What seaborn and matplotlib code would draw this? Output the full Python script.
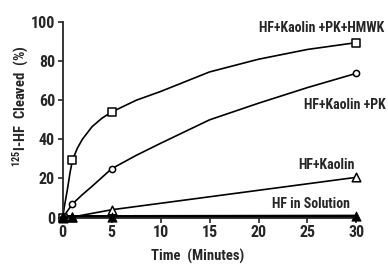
"""
Clivagem de 125I-HF ao longo do tempo
"""

import matplotlib
matplotlib.use("Agg")
import matplotlib.pyplot as plt
import seaborn as sns

# Pontos medidos (min, %)
time_pts = [0, 1, 5, 30]
hmwk_pts = [0, 29.5, 54, 89.5]
pk_pts = [0, 7, 25, 73.8]
kaolin_pts = [0, 0.3, 4, 20.6]
solution_pts = [0.4, 0.4, 0.4, 0.6]

# Curvas desenhadas à mão
hmwk_curve_t = [0, 0.15, 0.5, 0.75, 1, 1.5, 2, 3, 4, 5, 7.5, 10, 12.5, 15, 20, 25, 30]
hmwk_curve_y = [0, 5, 15, 23, 29.5, 35.5, 40, 46.5, 50.8, 54, 60, 64.5, 69.5, 74.5, 81, 86, 89.5]
pk_curve_t = [0, 1, 2, 3, 4, 5, 7.5, 10, 15, 20, 25, 30]
pk_curve_y = [0, 7, 11.7, 16, 20.5, 25, 31.8, 38, 50, 58.5, 66.5, 73.8]

labels = ["HF+Kaolin +PK+HMWK", "HF+Kaolin +PK", "HF+Kaolin", "HF in Solution"]
label_pos = [(32.8, 97), (33.0, 57.6), (29.8, 26.8), (29.3, 7.1)]

x_ticks = [0, 5, 10, 15, 20, 25, 30]
y_ticks = [0, 20, 40, 60, 80, 100]

sns.set_style("ticks")
font = ["Roboto Condensed", "DejaVu Sans"]
plt.rcParams["font.family"] = font
plt.rcParams["font.weight"] = "bold"
plt.rcParams["mathtext.default"] = "regular"

fig = plt.figure(figsize=(3.88, 2.66), dpi=100)
ax = fig.add_axes([0.1616, 0.182, 0.757, 0.735])

sns.lineplot(x=hmwk_curve_t, y=hmwk_curve_y, ax=ax, color="black", lw=1.2)
sns.lineplot(x=pk_curve_t, y=pk_curve_y, ax=ax, color="black", lw=1.2)
sns.lineplot(x=time_pts, y=kaolin_pts, ax=ax, color="black", lw=1.2)
sns.lineplot(x=time_pts, y=solution_pts, ax=ax, color="black", lw=2.6)

mk = dict(ax=ax, color="white", edgecolor="black", linewidth=1.1, zorder=5, clip_on=False)
sns.scatterplot(x=time_pts, y=hmwk_pts, marker="s", s=38, **mk)
sns.scatterplot(x=time_pts, y=pk_pts, marker="o", s=20, **mk)
sns.scatterplot(x=time_pts, y=kaolin_pts, marker="^", s=38, **mk)
sns.scatterplot(x=time_pts, y=solution_pts, marker="^", s=45, ax=ax,
                color="black", edgecolor="black", zorder=6, clip_on=False)

for text, (tx, ty) in zip(labels, label_pos):
    ax.text(tx, ty, text, ha="right", va="center", fontsize=10,
            fontweight="bold", family=font, clip_on=False)

ax.set_xlim(0, 30)
ax.set_ylim(0, 100)
ax.set_xticks(x_ticks)
ax.set_yticks(y_ticks)
ax.tick_params(labelsize=11.5, width=1.2, length=3.5, pad=2)
for lab in ax.get_xticklabels() + ax.get_yticklabels():
    lab.set_fontweight("bold")
sns.despine(ax=ax)
for sp in ["left", "bottom"]:
    ax.spines[sp].set_linewidth(1.3)

ax.set_xlabel("Time  (Minutes)", fontsize=10.5, fontweight="bold", va="center")
ax.xaxis.set_label_coords(0.46, -0.20)
ax.set_ylabel("$^{125}$I-HF  Cleaved  (%)", fontsize=10.5, fontweight="bold", va="center")
ax.yaxis.set_label_coords(-0.143, 0.57)

fig.savefig("out.png", dpi=100)
